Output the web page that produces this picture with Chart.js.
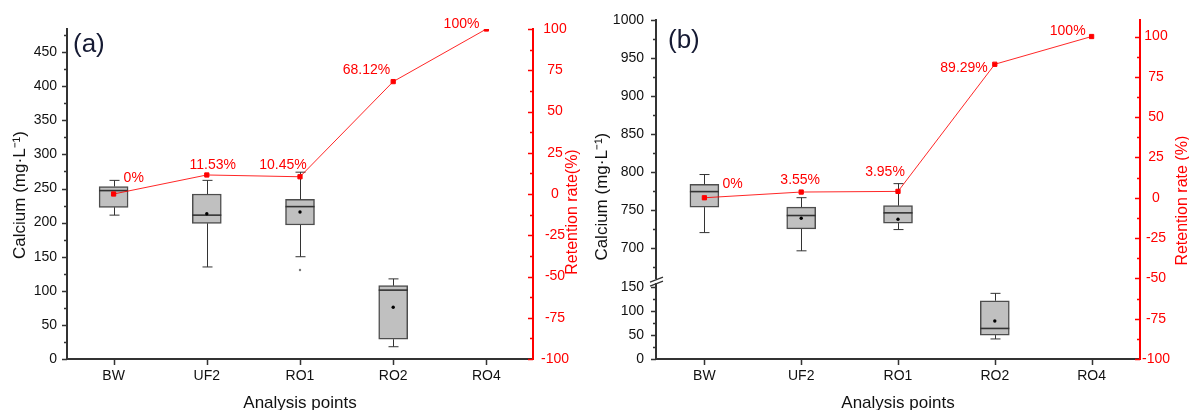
<!DOCTYPE html>
<html>
<head>
<meta charset="utf-8">
<script src="https://cdn.jsdelivr.net/npm/chart.js@4.4.1/dist/chart.umd.min.js"></script>
<style>
  html, body { margin: 0; padding: 0; background: #fff; }
  #wrap { position: relative; width: 1189px; height: 410px; overflow: hidden; }
  canvas { position: absolute; top: 0; }
  #chartA { left: 0; }
  #chartB { left: 590px; }
</style>
</head>
<body>
<div id="wrap">
  <canvas id="chartA" width="590" height="410"></canvas>
  <canvas id="chartB" width="599" height="410"></canvas>
</div>
<script>
// ── data ─────────────────────────────────────────
const categories = ['BW', 'UF2', 'RO1', 'RO2', 'RO4'];

// (a) calcium box statistics, mg/L
const aLow     = [211, 135, 150, 18, null];
const aQ1      = [222.5, 199, 196.5, 29, null];
const aMedian  = [247, 211, 223.5, 101, null];
const aQ3      = [253, 242, 234, 107.5, null];
const aHigh    = [262, 262, 274, 117.5, null];
const aMean    = [241.5, 213, 215.5, 76, null];
const aOutlier = [null, null, 130.5, null, null];
const aRetention     = [0, 11.53, 10.45, 68.12, 100];
const aRetentionText = ['0%', '11.53%', '10.45%', '68.12%', '100%'];
const aCalciumRange  = [0, 484];
const aRetentionRange = [-100, 100];

// (b) calcium box statistics, mg/L (broken axis)
const bLow     = [720.5, 696.5, 724.5, 42, null];
const bQ1      = [754, 725.5, 733, 50, null];
const bMedian  = [774.5, 743, 746.5, 64, null];
const bQ3      = [784, 754, 756, 122, null];
const bHigh    = [797, 766.5, 785, 137.5, null];
const bMean    = [766, 739.5, 738, 79.5, null];
const bRetention     = [0, 3.55, 3.95, 82.8, 100];
const bRetentionText = ['0%', '3.55%', '3.95%', '89.29%', '100%'];
const bLowRange  = [0, 159];
const bHighRange = [654, 1000];
const bRetentionRange = [-100, 110];

// ── shared styling ──────────────────────────────
const FONT = "'Liberation Sans', Arial, Helvetica, sans-serif";
Chart.defaults.font.family = FONT;
Chart.defaults.color = '#111';
const INK = '#333';
const RED = '#ff0000';
const BOX_FILL = '#c0c0c0';
const BOX_EDGE = '#4d4d4d';

const onLow = i => bQ3[i] != null && bQ3[i] < bHighRange[0];
const onHigh = i => !onLow(i);
const pick = (arr, keep) => arr.map((v, i) => keep(i) ? v : null);
const boxes = (q1, q3, keep) => q1.map((v, i) => (v == null || !keep(i)) ? null : [v, q3[i]]);

// whiskers + median drawn through the dataset's own y scale
const boxWhiskers = {
  id: 'boxWhiskers',
  afterDatasetDraw(chart, args) {
    const ds = chart.data.datasets[args.index];
    if (!ds.stats) return;
    const { ctx } = chart;
    const y = chart.scales[ds.yAxisID];
    ctx.save();
    args.meta.data.forEach((bar, i) => {
      if (ds.data[i] == null) return;
      const px = Math.round(bar.x) + 0.5;
      const half = bar.width / 2;
      const yHi = y.getPixelForValue(ds.stats.high[i]);
      const yLo = y.getPixelForValue(ds.stats.low[i]);
      const yQ3 = y.getPixelForValue(ds.data[i][1]);
      const yQ1 = y.getPixelForValue(ds.data[i][0]);
      ctx.strokeStyle = INK;
      ctx.lineWidth = 1;
      ctx.beginPath();
      ctx.moveTo(px, yQ3); ctx.lineTo(px, yHi);
      ctx.moveTo(px, yQ1); ctx.lineTo(px, yLo);
      ctx.moveTo(px - 5, yHi); ctx.lineTo(px + 5, yHi);
      ctx.moveTo(px - 5, yLo); ctx.lineTo(px + 5, yLo);
      ctx.stroke();
      const yMed = y.getPixelForValue(ds.stats.median[i]);
      ctx.lineWidth = 1.6;
      ctx.beginPath();
      ctx.moveTo(bar.x - half, yMed); ctx.lineTo(bar.x + half, yMed);
      ctx.stroke();
    });
    ctx.restore();
  }
};

// major ticks + one minor between, in or out
function tickMarks(spec) {
  return {
    id: 'tickMarks',
    afterDraw(chart) {
      const ctx = chart.ctx;
      ctx.save();
      ctx.lineWidth = 1.5;
      for (const [id, o] of Object.entries(spec)) {
        const s = chart.scales[id];
        ctx.strokeStyle = o.color;
        ctx.beginPath();
        if (s.axis === 'x') {
          s.ticks.forEach((t, i) => {
            const px = Math.round(s.getPixelForTick(i)) + 0.5;
            ctx.moveTo(px, s.top); ctx.lineTo(px, s.top + 6);
          });
        } else {
          const x0 = s.position === 'left' ? s.right : s.left;
          const out = s.position === 'left' ? -1 : 1;
          const dir = o.inward ? -out : out;
          const vals = s.ticks.map(t => t.value);
          const step = vals[1] - vals[0];
          const mark = (v, len) => {
            const py = Math.round(s.getPixelForValue(v)) + 0.5;
            ctx.moveTo(x0, py); ctx.lineTo(x0 + dir * len, py);
          };
          vals.forEach(v => mark(v, 5));
          for (let v = vals[0] - step / 2; v <= s.max; v += step) if (v >= s.min) mark(v, 3);
        }
        ctx.stroke();
      }
      ctx.restore();
    }
  };
}

// vertical axis titles, both read bottom-to-top
function axisTitles(list) {
  return {
    id: 'axisTitles',
    afterDraw(chart) {
      const { ctx, chartArea } = chart;
      const midY = (chartArea.top + chartArea.bottom) / 2;
      list.forEach(t => {
        ctx.save();
        ctx.translate(t.x, midY + t.dy);
        ctx.rotate(-Math.PI / 2);
        ctx.font = `${t.size}px ${FONT}`;
        ctx.fillStyle = t.color;
        ctx.textAlign = 'center';
        ctx.textBaseline = 'middle';
        ctx.fillText(t.text, 0, 0);
        ctx.restore();
      });
    }
  };
}

// % labels beside the retention points
function retentionLabels(texts, offsets) {
  return {
    id: 'retentionLabels',
    afterDatasetsDraw(chart) {
      const idx = chart.data.datasets.findIndex(d => d.isRetention);
      const meta = chart.getDatasetMeta(idx);
      const ctx = chart.ctx;
      ctx.save();
      ctx.font = `14px ${FONT}`;
      ctx.fillStyle = RED;
      ctx.textBaseline = 'middle';
      meta.data.forEach((pt, i) => {
        const [dx, dy, align] = offsets[i];
        ctx.textAlign = align;
        ctx.fillText(texts[i], pt.x + dx, pt.y + dy);
      });
      ctx.restore();
    }
  };
}

function panelLabel(text, dx, dy) {
  return {
    id: 'panelLabel',
    afterDraw(chart) {
      const { ctx, chartArea } = chart;
      ctx.save();
      ctx.font = `26px ${FONT}`;
      ctx.fillStyle = '#151a33';
      ctx.textAlign = 'left';
      ctx.textBaseline = 'middle';
      ctx.fillText(text, chartArea.left + dx, chartArea.top + dy);
      ctx.restore();
    }
  };
}

const axisBreak = {
  id: 'axisBreak',
  afterDraw(chart) {
    const s = chart.scales.yLow;
    const { ctx } = chart;
    const x = s.right, y = s.top;
    ctx.save();
    ctx.fillStyle = '#fff';
    ctx.fillRect(x - 2, y - 4, 4, 4);
    ctx.strokeStyle = INK;
    ctx.lineWidth = 1.2;
    ctx.beginPath();
    ctx.moveTo(x - 6, y - 1); ctx.lineTo(x + 7, y - 6);
    ctx.moveTo(x - 6, y + 3); ctx.lineTo(x + 7, y - 2);
    ctx.stroke();
    ctx.restore();
  }
};

const tickFont = { size: 14 };
const plain = v => String(v);
const noGrid = { display: false, drawTicks: false };
const xScale = {
  type: 'category',
  offset: true,
  grid: noGrid,
  border: { display: true, color: INK, width: 2 },
  ticks: { color: '#111', font: tickFont, padding: 9 },
  title: { display: true, text: 'Analysis points', color: '#111', font: { size: 17 }, padding: { top: 0, bottom: -4 } },
  afterFit: s => { s.height = 51; }
};
const leftAxis = (range, pad, width, extra) => Object.assign({
  type: 'linear',
  position: 'left',
  min: range[0], max: range[1],
  grid: noGrid,
  border: { display: true, color: INK, width: 2 },
  ticks: { stepSize: 50, includeBounds: false, autoSkip: false, color: '#111', font: tickFont, padding: pad, callback: plain },
  afterFit: s => { s.width = width; }
}, extra);
const rightAxis = (range, pad, width) => ({
  type: 'linear',
  position: 'right',
  min: range[0], max: range[1],
  grid: noGrid,
  border: { display: true, color: RED, width: 2 },
  ticks: { stepSize: 25, includeBounds: false, autoSkip: false, crossAlign: 'center', color: RED, font: tickFont, padding: pad, callback: plain },
  afterFit: s => { s.width = width; }
});
const retentionLine = data => ({
  type: 'line', isRetention: true, data, yAxisID: 'y1', order: 0,
  borderColor: 'rgba(255,0,0,0.85)', borderWidth: 1, tension: 0,
  pointStyle: 'rect', pointRadius: 3, pointBackgroundColor: RED, pointBorderColor: RED, pointBorderWidth: 1
});
const meanDots = (data, axis) => ({
  type: 'line', data, yAxisID: axis, order: 1, showLine: false,
  pointRadius: 1.7, pointBackgroundColor: '#000', pointBorderWidth: 0
});
const boxSet = (data, axis, stats) => ({
  type: 'bar', data, yAxisID: axis, order: 2, stats,
  backgroundColor: BOX_FILL, borderColor: BOX_EDGE, borderWidth: 1.5,
  borderSkipped: false, barThickness: 29, grouped: false
});
const common = {
  responsive: false,
  animation: false,
  plugins: { legend: { display: false }, tooltip: { enabled: false } }
};

// ── (a) ─────────────────────────────────────────
new Chart(document.getElementById('chartA'), {
  type: 'bar',
  data: {
    labels: categories,
    datasets: [
      retentionLine(aRetention),
      meanDots(aMean, 'y'),
      { type: 'line', data: aOutlier, yAxisID: 'y', order: 1, showLine: false,
        pointRadius: 1.2, pointBackgroundColor: '#777', pointBorderWidth: 0 },
      boxSet(boxes(aQ1, aQ3, () => true), 'y', { low: aLow, median: aMedian, high: aHigh })
    ]
  },
  options: Object.assign({}, common, {
    layout: { padding: { top: 29, left: 0, right: 0, bottom: 0 } },
    scales: {
      x: xScale,
      y: leftAxis(aCalciumRange, 10, 67),
      y1: rightAxis(aRetentionRange, 8, 57)
    }
  }),
  plugins: [
    boxWhiskers,
    tickMarks({ x: { color: INK }, y: { color: INK }, y1: { color: RED, inward: true } }),
    axisTitles([
      { text: 'Calcium (mg·L⁻¹)', x: 20, dy: 1, size: 17, color: '#111' },
      { text: 'Retention rate(%)', x: 573, dy: 18, size: 16, color: RED }
    ]),
    retentionLabels(aRetentionText, [[10, -16, 'left'], [6, -10, 'center'], [-17, -12, 'center'], [-3, -11, 'right'], [-7, -5, 'right']]),
    panelLabel('(a)', 6, 16)
  ]
});

// ── (b) ─────────────────────────────────────────
new Chart(document.getElementById('chartB'), {
  type: 'bar',
  data: {
    labels: categories,
    datasets: [
      retentionLine(bRetention),
      meanDots(pick(bMean, onHigh), 'yHigh'),
      meanDots(pick(bMean, onLow), 'yLow'),
      boxSet(boxes(bQ1, bQ3, onHigh), 'yHigh', { low: bLow, median: bMedian, high: bHigh }),
      boxSet(boxes(bQ1, bQ3, onLow), 'yLow', { low: bLow, median: bMedian, high: bHigh })
    ]
  },
  options: Object.assign({}, common, {
    layout: { padding: { top: 20, left: 0, right: 0, bottom: 0 } },
    scales: {
      x: xScale,
      yLow: leftAxis(bLowRange, 12, 66, { stack: 'calcium', stackWeight: 76 }),
      yHigh: leftAxis(bHighRange, 12, 66, { stack: 'calcium', stackWeight: 263 }),
      y1: rightAxis(bRetentionRange, 2, 49)
    }
  }),
  plugins: [
    boxWhiskers,
    tickMarks({ x: { color: INK }, yLow: { color: INK }, yHigh: { color: INK }, y1: { color: RED, inward: true } }),
    axisTitles([
      { text: 'Calcium (mg·L⁻¹)', x: 12.5, dy: 7, size: 17, color: '#111' },
      { text: 'Retention rate (%)', x: 593, dy: 11, size: 16, color: RED }
    ]),
    retentionLabels(bRetentionText, [[18, -14, 'left'], [-1, -12, 'center'], [-13, -19, 'center'], [-7, 4, 'right'], [-6, -5, 'right']]),
    panelLabel('(b)', 12, 20),
    axisBreak
  ]
});
</script>
</body>
</html>
